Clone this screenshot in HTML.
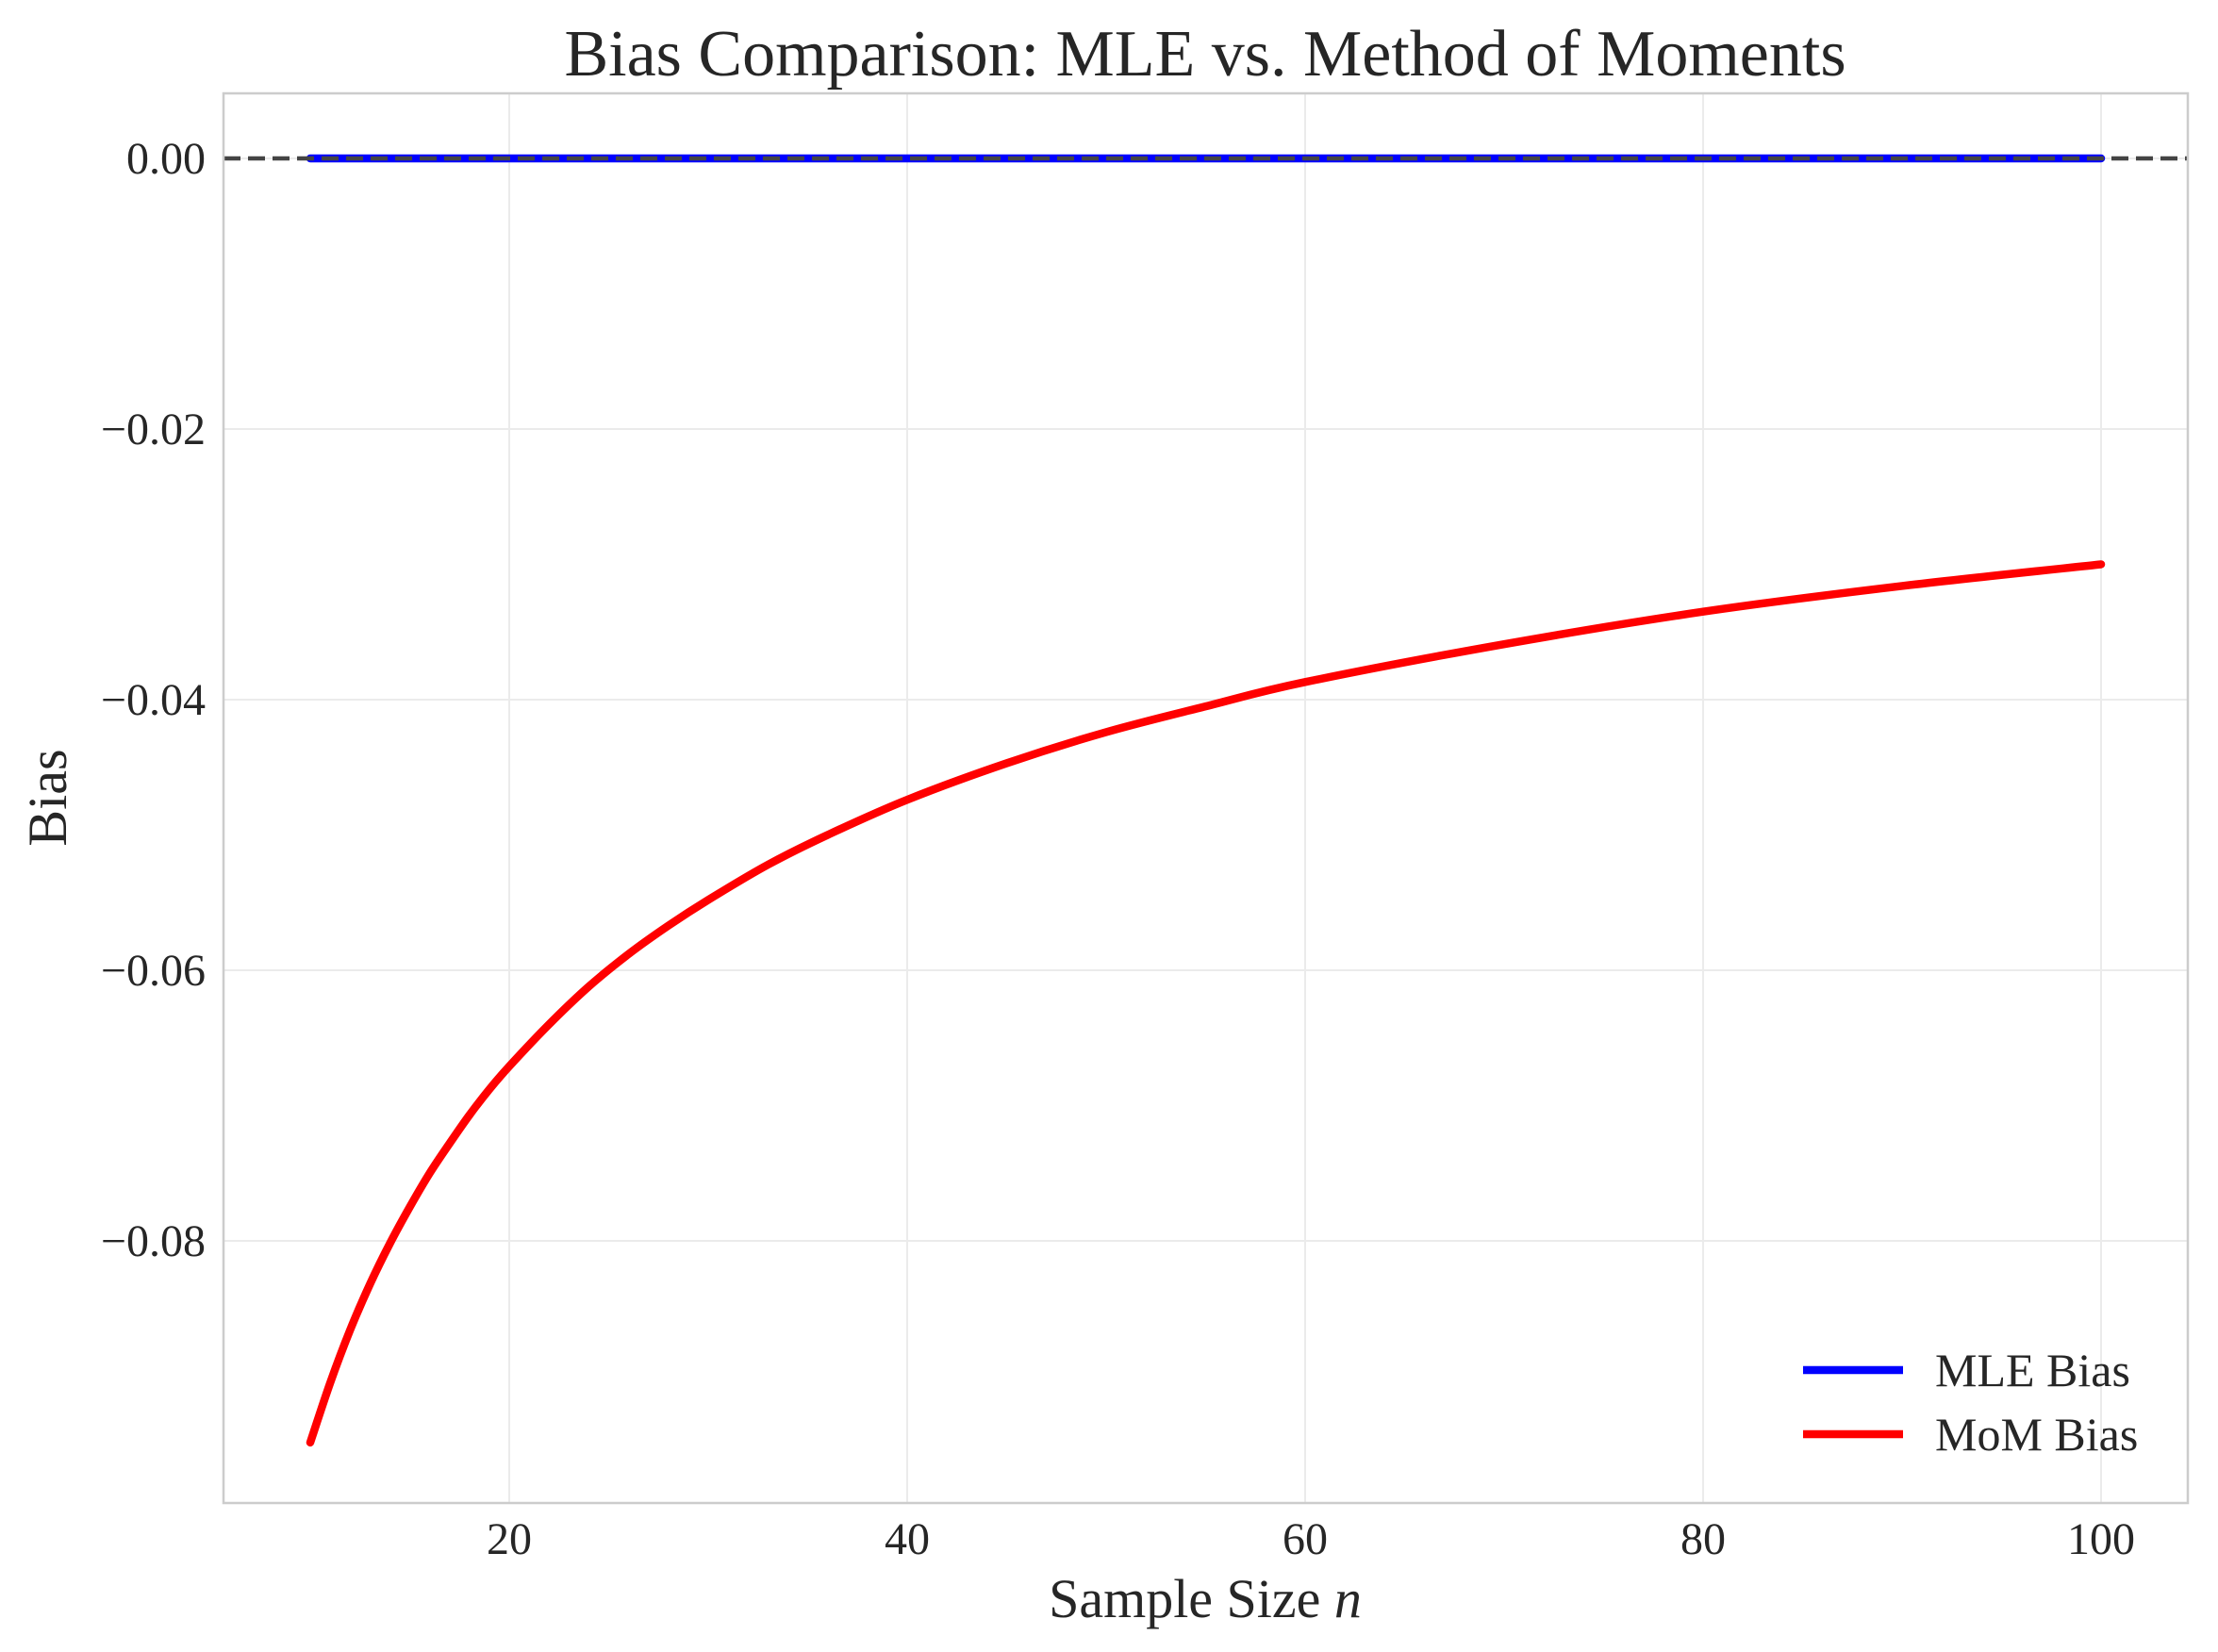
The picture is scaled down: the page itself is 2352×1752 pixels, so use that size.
<!DOCTYPE html>
<html><head><meta charset="utf-8"><style>
html,body{margin:0;padding:0;background:#fff;}
svg{display:block;font-family:"Liberation Serif","DejaVu Serif",serif;}
</style></head><body>
<svg id="chart" width="2352" height="1752" viewBox="0 0 2352 1752">
<rect x="0" y="0" width="2352" height="1752" fill="#fff"/>
<g id="grid"></g>
<g id="marks"></g>
<rect x="237" y="99" width="2083" height="1495" fill="none" stroke="#cccccc" stroke-width="2.5"/>
<g id="ticks" font-size="48" fill="#262626"></g>
<text x="1278" y="80" text-anchor="middle" font-size="70" fill="#262626">Bias Comparison: MLE vs. Method of Moments</text>
<text x="1278" y="1715" text-anchor="middle" font-size="58" fill="#262626">Sample Size <tspan font-style="italic">n</tspan></text>
<text transform="translate(70,846) rotate(-90)" text-anchor="middle" font-size="58" fill="#262626">Bias</text>
<g>
<line x1="1912" y1="1453" x2="2018" y2="1453" stroke="#0000ff" stroke-width="8.5"/>
<text x="2052" y="1470" font-size="50" fill="#262626">MLE Bias</text>
<line x1="1912" y1="1521" x2="2018" y2="1521" stroke="#ff0000" stroke-width="8.5"/>
<text x="2052" y="1538" font-size="50" fill="#262626">MoM Bias</text>
</g>
</svg>
<script>
const nValues = [10,11,12,13,14,15,16,17,18,19,20,22,24,26,28,30,33,36,40,45,50,55,60,70,80,90,100];
const momBias = [-0.0949,-0.0905,-0.0866,-0.0832,-0.0802,-0.0775,-0.075,-0.0728,-0.0707,-0.0688,-0.0671,-0.064,-0.0612,-0.0588,-0.0567,-0.0548,-0.0522,-0.05,-0.0474,-0.0447,-0.0424,-0.0405,-0.0387,-0.0359,-0.0335,-0.0316,-0.03];
const mleBias = [0,0,0,0,0,0,0,0,0,0,0,0,0,0,0,0,0,0,0,0,0,0,0,0,0,0,0];
const xTicks = [20,40,60,80,100];
const yTicks = [0,-0.02,-0.04,-0.06,-0.08];
const yTickLabels = ["0.00","\u22120.02","\u22120.04","\u22120.06","\u22120.08"];

const X0=237,X1=2320,Y0=99,Y1=1594;
function xs(v){return 540+(v-20)*(2228-540)/80;}
function ys(v){return 168+(-v)*(1316-168)/0.08;}
const NS="http://www.w3.org/2000/svg";
function mk(t,a,p){const e=document.createElementNS(NS,t);for(const k in a)e.setAttribute(k,a[k]);p.appendChild(e);return e;}
const grid=document.getElementById('grid'),marks=document.getElementById('marks'),ticks=document.getElementById('ticks');
xTicks.forEach(v=>{
  const l=mk('line',{x1:xs(v),x2:xs(v),y1:Y0,y2:Y1,stroke:'#ebebeb','stroke-width':2},grid);
  
  
  const t=mk('text',{x:xs(v),y:1648,'text-anchor':'middle'},ticks);t.textContent=v;
  
  
});
yTicks.forEach((v,i)=>{
  const l=mk('line',{x1:X0,x2:X1,y1:ys(v),y2:ys(v),stroke:'#ebebeb','stroke-width':2},grid);
  
  
  const t=mk('text',{x:218,y:ys(v)+16,'text-anchor':'end'},ticks);t.textContent=yTickLabels[i];
  
  
});
const mle=mk('polyline',{points:nValues.map((n,i)=>xs(n)+','+ys(mleBias[i])).join(' '),fill:'none',stroke:'#0000ff','stroke-width':8.5,'stroke-linecap':'round'},marks);


const pts=nValues.map((n,i)=>[xs(n),ys(momBias[i])]);
let d='M'+pts[0][0]+','+pts[0][1];
for(let i=0;i<pts.length-1;i++){
  const p0=pts[Math.max(0,i-1)],p1=pts[i],p2=pts[i+1],p3=pts[Math.min(pts.length-1,i+2)];
  const c1=[p1[0]+(p2[0]-p0[0])/6,p1[1]+(p2[1]-p0[1])/6],c2=[p2[0]-(p3[0]-p1[0])/6,p2[1]-(p3[1]-p1[1])/6];
  d+=' C'+c1+' '+c2+' '+p2;
}
const mom=mk('path',{d:d,fill:'none',stroke:'#ff0000','stroke-width':8.5,'stroke-linecap':'round'},marks);


const zl=mk('line',{x1:X0,x2:X1,y1:ys(0),y2:ys(0),stroke:'#444444','stroke-width':4.5,'stroke-dasharray':'18,8'},marks);


</script>
</body></html>
